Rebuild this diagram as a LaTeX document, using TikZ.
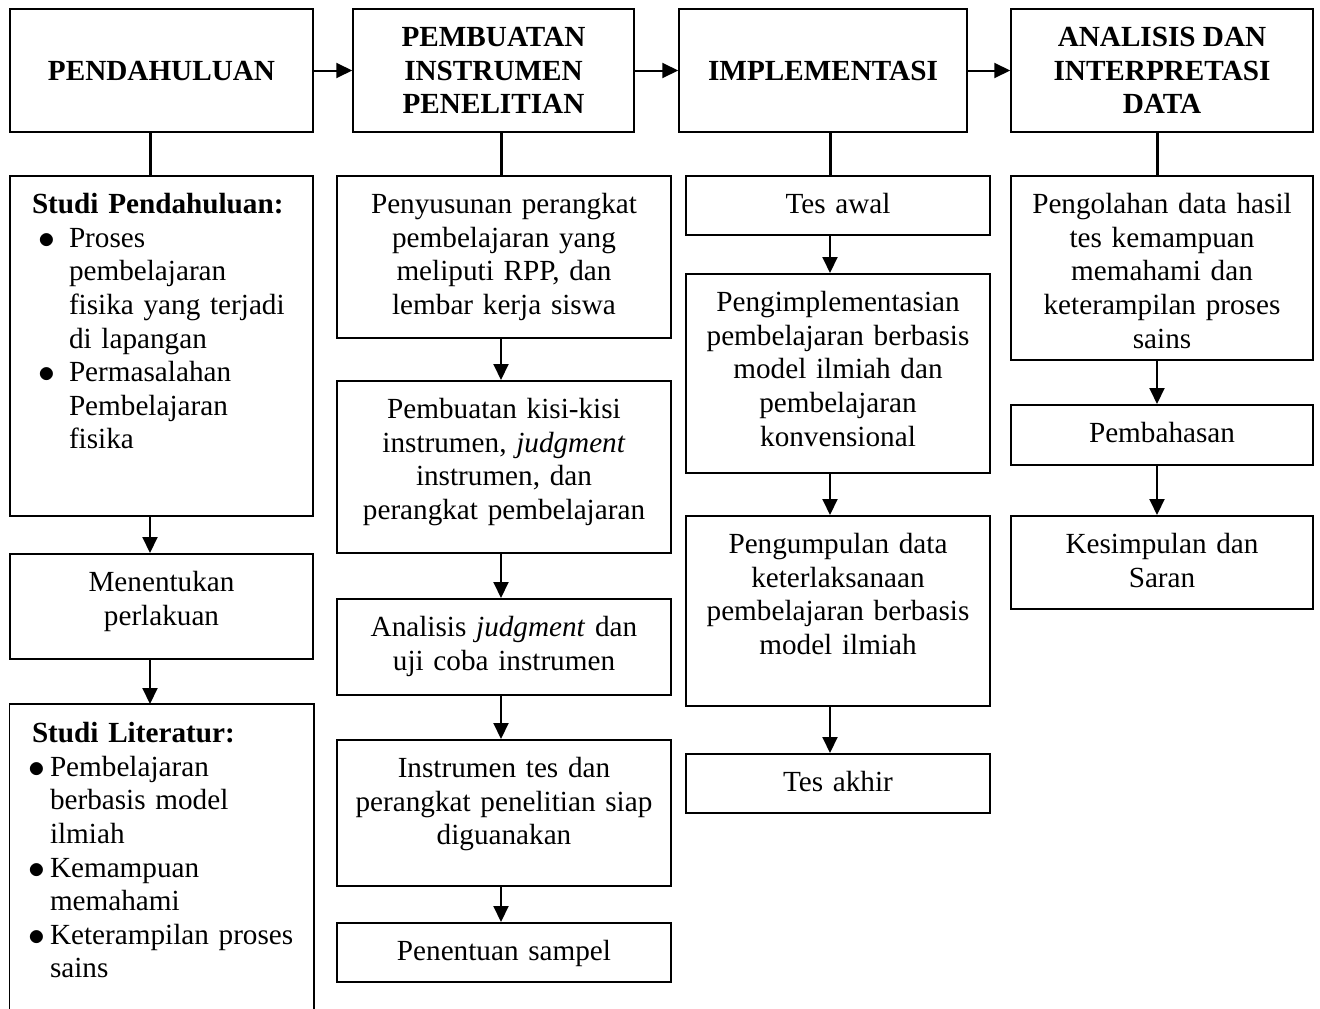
\documentclass[tikz,border=0pt]{standalone}
\usepackage{fontspec}
\setmainfont{Liberation Serif}
\usetikzlibrary{arrows.meta}
% tanda butir yang agak besar
\newcommand{\butir}{\smash{\rlap{\raisebox{-1pt}{\scalebox{1.35}{$\bullet$}}}}}

\begin{document}
\begin{tikzpicture}[
        x=1pt, y=-1pt,
        % Kotak judul tahap (baris atas)
        tahap/.style={
            draw, line width=1.5pt,
            minimum height=123pt, inner sep=0pt,
            align=center,
            font=\fontsize{29.2}{33.6}\selectfont\bfseries
        },
        % Kotak langkah: teks rata atas, tinggi lewat text depth
        kotak/.style={
            draw, line width=1.5pt,
            anchor=north, inner sep=0pt,
            align=center,
            text height=38pt, text depth=#1,
            font=\fontsize{29.2}{33.6}\selectfont
        },
        % Kotak berisi daftar butir
        daftar/.style={
            kotak=#1, align=left,
            inner xsep=22pt, text width=259pt
        },
        % Lebar kolom
        kol1/.style={text width=303pt},
        kol2/.style={text width=334pt},
        kol3/.style={text width=304pt},
        kol4/.style={text width=302pt},
        % Garis penghubung
        panah/.style={line width=2pt, -{Triangle[length=16pt, width=15pt]}},
        garis/.style={line width=3pt}
    ]
        \useasboundingbox (0,0) rectangle (1320,1009);

        % Baris atas: tahap penelitian
        \node[tahap, minimum width=303pt] (pend) at (161.5,70.5) {PENDAHULUAN};
        \node[tahap, minimum width=281pt] (pemb) at (493.5,70.5) {PEMBUATAN\\INSTRUMEN\\PENELITIAN};
        \node[tahap, minimum width=288pt] (impl) at (823,70.5) {IMPLEMENTASI};
        \node[tahap, minimum width=302pt] (anal) at (1162,70.5) {ANALISIS DAN\\INTERPRETASI\\DATA};

        \draw[panah] (pend) -- (pemb);
        \draw[panah] (pemb) -- (impl);
        \draw[panah] (impl) -- (anal);

        % Posisi garis tiap kolom
        \coordinate (x1) at (150,0);
        \coordinate (x2) at (501,0);
        \coordinate (x3) at (830,0);
        \coordinate (x4) at (1157,0);

        % Kolom 1: pendahuluan
        \node[daftar=302pt] (studi) at (161.5,175) {\textbf{Studi Pendahuluan:}\\
            \hspace*{6pt}\makebox[31pt][l]{\butir}Proses\\
            \hspace*{37pt}pembelajaran\\
            \hspace*{37pt}fisika yang terjadi\\
            \hspace*{37pt}di lapangan\\
            \hspace*{6pt}\makebox[31pt][l]{\butir}Permasalahan\\
            \hspace*{37pt}Pembelajaran\\
            \hspace*{37pt}fisika};
        \node[kotak=67pt, kol1] (tentu) at (161.5,553) {Menentukan\\perlakuan};
        \node[daftar=267pt, draw=none] (lit) at (161.5,704) {\textbf{Studi Literatur:}\\
            \makebox[18pt][l]{\hspace*{-4pt}\butir}Pembelajaran\\
            \hspace*{18pt}berbasis model\\
            \hspace*{18pt}ilmiah\\
            \makebox[18pt][l]{\hspace*{-4pt}\butir}Kemampuan\\
            \hspace*{18pt}memahami\\
            \makebox[18pt][l]{\hspace*{-4pt}\butir}\mbox{Keterampilan proses}\\
            \hspace*{18pt}sains};
        % kotak terpotong di tepi bawah
        \draw[line width=1.5pt] (lit.south west) |- (lit.north east) -- (lit.south east);

        \draw[garis] (pend.south -| x1) -- (studi.north -| x1);
        \draw[panah] (studi.south -| x1) -- (tentu.north -| x1);
        \draw[panah] (tentu.south -| x1) -- (lit.north -| x1);

        % Kolom 2: pembuatan instrumen
        \node[kotak=124pt, kol2] (susun) at (504,175) {Penyusunan perangkat\\pembelajaran yang\\meliputi RPP, dan\\lembar kerja siswa};
        \node[kotak=134pt, kol2] (kisi) at (504,380) {Pembuatan kisi-kisi\\instrumen, \textit{judgment}\\instrumen, dan\\perangkat pembelajaran};
        \node[kotak=58pt, kol2] (ujicoba) at (504,598) {Analisis \textit{judgment} dan\\uji coba instrumen};
        \node[kotak=108pt, kol2] (siap) at (504,739) {Instrumen tes dan\\perangkat penelitian siap\\diguanakan};
        \node[kotak=21pt, kol2] (sampel) at (504,922) {Penentuan sampel};

        \draw[garis] (pemb.south -| x2) -- (susun.north -| x2);
        \draw[panah] (susun.south -| x2) -- (kisi.north -| x2);
        \draw[panah] (kisi.south -| x2) -- (ujicoba.north -| x2);
        \draw[panah] (ujicoba.south -| x2) -- (siap.north -| x2);
        \draw[panah] (siap.south -| x2) -- (sampel.north -| x2);

        % Kolom 3: implementasi
        \node[kotak=21pt, kol3] (awal) at (838,175) {Tes awal};
        \node[kotak=161pt, kol3] (terap) at (838,273) {Pengimplementasian\\pembelajaran berbasis\\model ilmiah dan\\pembelajaran\\konvensional};
        \node[kotak=152pt, kol3] (kumpul) at (838,515) {Pengumpulan data\\keterlaksanaan\\pembelajaran berbasis\\model ilmiah};
        \node[kotak=21pt, kol3] (akhir) at (838,753) {Tes akhir};

        \draw[garis] (impl.south -| x3) -- (awal.north -| x3);
        \draw[panah] (awal.south -| x3) -- (terap.north -| x3);
        \draw[panah] (terap.south -| x3) -- (kumpul.north -| x3);
        \draw[panah] (kumpul.south -| x3) -- (akhir.north -| x3);

        % Kolom 4: analisis data
        \node[kotak=146pt, kol4] (olah) at (1162,175) {Pengolahan data hasil\\tes kemampuan\\memahami dan\\keterampilan proses\\sains};
        \node[kotak=22pt, kol4] (bahas) at (1162,404) {Pembahasan};
        \node[kotak=55pt, kol4] (simpul) at (1162,515) {Kesimpulan dan\\Saran};

        \draw[garis] (anal.south -| x4) -- (olah.north -| x4);
        \draw[panah] (olah.south -| x4) -- (bahas.north -| x4);
        \draw[panah] (bahas.south -| x4) -- (simpul.north -| x4);

    \end{tikzpicture}
\end{document}
